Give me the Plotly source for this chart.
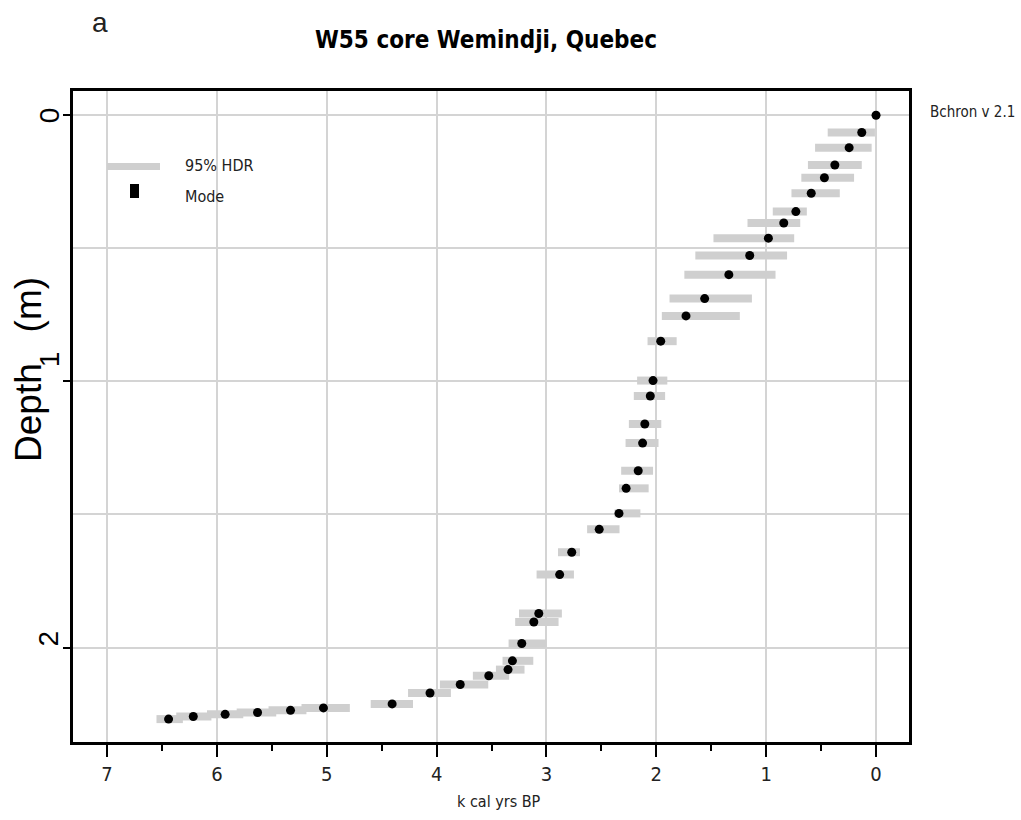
import plotly.graph_objects as go

# ---- data ----
depth = [0.000, 0.065, 0.122, 0.187, 0.235, 0.293, 0.362, 0.405, 0.462, 0.527,
         0.599, 0.689, 0.754, 0.849, 0.997, 1.055, 1.160, 1.232, 1.336, 1.402,
         1.496, 1.556, 1.642, 1.726, 1.872, 1.904, 1.985, 2.050, 2.083, 2.106,
         2.139, 2.171, 2.212, 2.227, 2.236, 2.244, 2.251, 2.259, 2.269]
mode_age = [0.00, 0.13, 0.245, 0.375, 0.47, 0.59, 0.73, 0.84, 0.98, 1.15,
            1.34, 1.56, 1.73, 1.96, 2.03, 2.055, 2.105, 2.125, 2.165, 2.275,
            2.34, 2.52, 2.77, 2.88, 3.07, 3.115, 3.225, 3.31, 3.35, 3.525,
            3.785, 4.06, 4.405, 5.03, 5.33, 5.63, 5.925, 6.215, 6.44]
hdr_lo = [0.00, 0.01, 0.04, 0.13, 0.20, 0.33, 0.63, 0.69, 0.745, 0.81,
          0.915, 1.13, 1.24, 1.815, 1.90, 1.92, 1.955, 1.98, 2.03, 2.07,
          2.145, 2.335, 2.695, 2.75, 2.86, 2.89, 3.00, 3.12, 3.20, 3.34,
          3.53, 3.87, 4.215, 4.79, 5.185, 5.46, 5.76, 6.05, 6.31]
hdr_hi = [0.00, 0.44, 0.555, 0.62, 0.68, 0.77, 0.94, 1.17, 1.48, 1.645,
          1.745, 1.88, 1.95, 2.08, 2.175, 2.205, 2.25, 2.28, 2.32, 2.34,
          2.38, 2.63, 2.895, 3.09, 3.25, 3.285, 3.345, 3.40, 3.46, 3.67,
          3.97, 4.26, 4.60, 5.23, 5.53, 5.82, 6.09, 6.37, 6.55]
x_ticks = [0, 1, 2, 3, 4, 5, 6, 7]
y_ticks = [0, 1, 2]
y_label_shift = [0, 22, 9]   # pixel nudges of the rotated y labels, as in the reference

NARROW = "Liberation Sans Narrow, DejaVu Sans Condensed, Arial Narrow, sans-serif"
SANS = "Liberation Sans, Arial, Helvetica, sans-serif"
GRAY = "#cfcfcf"

# plot area in pixels
L, R, T, B = 73, 909, 91, 742
W, H = 1021, 820


def px(xp):
    return (xp - L) / (R - L)


def py(yp):
    return (B - yp) / (B - T)


# HDR segments
seg_x, seg_y = [], []
for lo, hi, d in zip(hdr_lo, hdr_hi, depth):
    seg_x += [lo, hi, None]
    seg_y += [d, d, None]

fig = go.Figure()
fig.add_trace(go.Scatter(x=seg_x, y=seg_y, mode="lines",
                         line=dict(color=GRAY, width=8),
                         hoverinfo="skip", showlegend=False))
fig.add_trace(go.Scatter(x=mode_age, y=depth, mode="markers",
                         marker=dict(color="black", size=9),
                         showlegend=False))

# legend (drawn manually, R style)
fig.add_shape(type="line", xref="paper", yref="paper",
              x0=px(107), x1=px(160), y0=py(166.5), y1=py(166.5),
              line=dict(color=GRAY, width=7))
fig.add_shape(type="rect", xref="paper", yref="paper",
              x0=px(130), x1=px(139), y0=py(198), y1=py(184),
              fillcolor="black", line=dict(width=0))
fig.add_annotation(xref="paper", yref="paper", x=px(183), y=py(166),
                   text="95% HDR", showarrow=False, xanchor="left", yanchor="middle",
                   font=dict(family=NARROW, size=16, color="#222"))
fig.add_annotation(xref="paper", yref="paper", x=px(183), y=py(196),
                   text="Mode", showarrow=False, xanchor="left", yanchor="middle",
                   font=dict(family=NARROW, size=16, color="#222"))

# titles & labels
fig.add_annotation(xref="paper", yref="paper", x=px(486), y=py(40),
                   text="<b>W55 core Wemindji, Quebec</b>", showarrow=False,
                   xanchor="center", yanchor="middle",
                   font=dict(family=NARROW, size=24, color="black"))
fig.add_annotation(xref="paper", yref="paper", x=px(100), y=py(23),
                   text="a", showarrow=False, xanchor="center", yanchor="middle",
                   font=dict(family=SANS, size=28, color="#222"))
fig.add_annotation(xref="paper", yref="paper", x=px(1017), y=py(112),
                   text="Bchron v 2.1", showarrow=False, xanchor="right", yanchor="middle",
                   font=dict(family=NARROW, size=15, color="#222"))
fig.add_annotation(xref="paper", yref="paper", x=px(28), y=py(370),
                   text="Depth\u00a0\u00a0\u00a0(m)", showarrow=False, textangle=-90,
                   xanchor="center", yanchor="middle",
                   font=dict(family=SANS, size=37, color="black"))
fig.add_annotation(xref="paper", yref="paper", x=px(499), y=py(801),
                   text="k cal yrs BP", showarrow=False, xanchor="center", yanchor="middle",
                   font=dict(family=NARROW, size=16, color="#222"))

# y tick labels (rotated, R style), positioned on the y scale
for v, s in zip(y_ticks, y_label_shift):
    fig.add_annotation(xref="paper", yref="y", x=px(49), y=v, yshift=s,
                       text=str(v), showarrow=False, textangle=-90,
                       xanchor="center", yanchor="middle",
                       font=dict(family=SANS, size=28, color="black"))

fig.update_layout(
    width=W, height=H,
    margin=dict(l=L, r=W - R, t=T, b=H - B, autoexpand=False),
    paper_bgcolor="white", plot_bgcolor="white",
    showlegend=False,
    xaxis=dict(range=[7.31, -0.30], tickvals=x_ticks, ticktext=[str(v) for v in x_ticks],
               ticks="outside", ticklen=12, tickwidth=2, tickcolor="black",
               tickfont=dict(family=NARROW, size=20, color="#222"),
               showgrid=True, gridcolor="#d4d4d4", gridwidth=2,
               minor=dict(dtick=0.5, tick0=0, ticks="outside", ticklen=6, tickwidth=2,
                          tickcolor="black", showgrid=False),
               showline=True, linecolor="black", linewidth=2.5, mirror=True,
               zeroline=False),
    yaxis=dict(range=[2.355, -0.091], tickvals=y_ticks, showticklabels=False,
               ticks="outside", ticklen=7, tickwidth=2, tickcolor="black",
               showgrid=True, gridcolor="#d4d4d4", gridwidth=2,
               minor=dict(dtick=0.5, tick0=0, ticks="", showgrid=True,
                          gridcolor="#d4d4d4", gridwidth=2),
               showline=True, linecolor="black", linewidth=2.5, mirror=True,
               zeroline=False),
)

fig.write_html("out.html", config={"displayModeBar": False},
               post_script="document.body.style.margin='0px';document.body.style.overflow='hidden';")
